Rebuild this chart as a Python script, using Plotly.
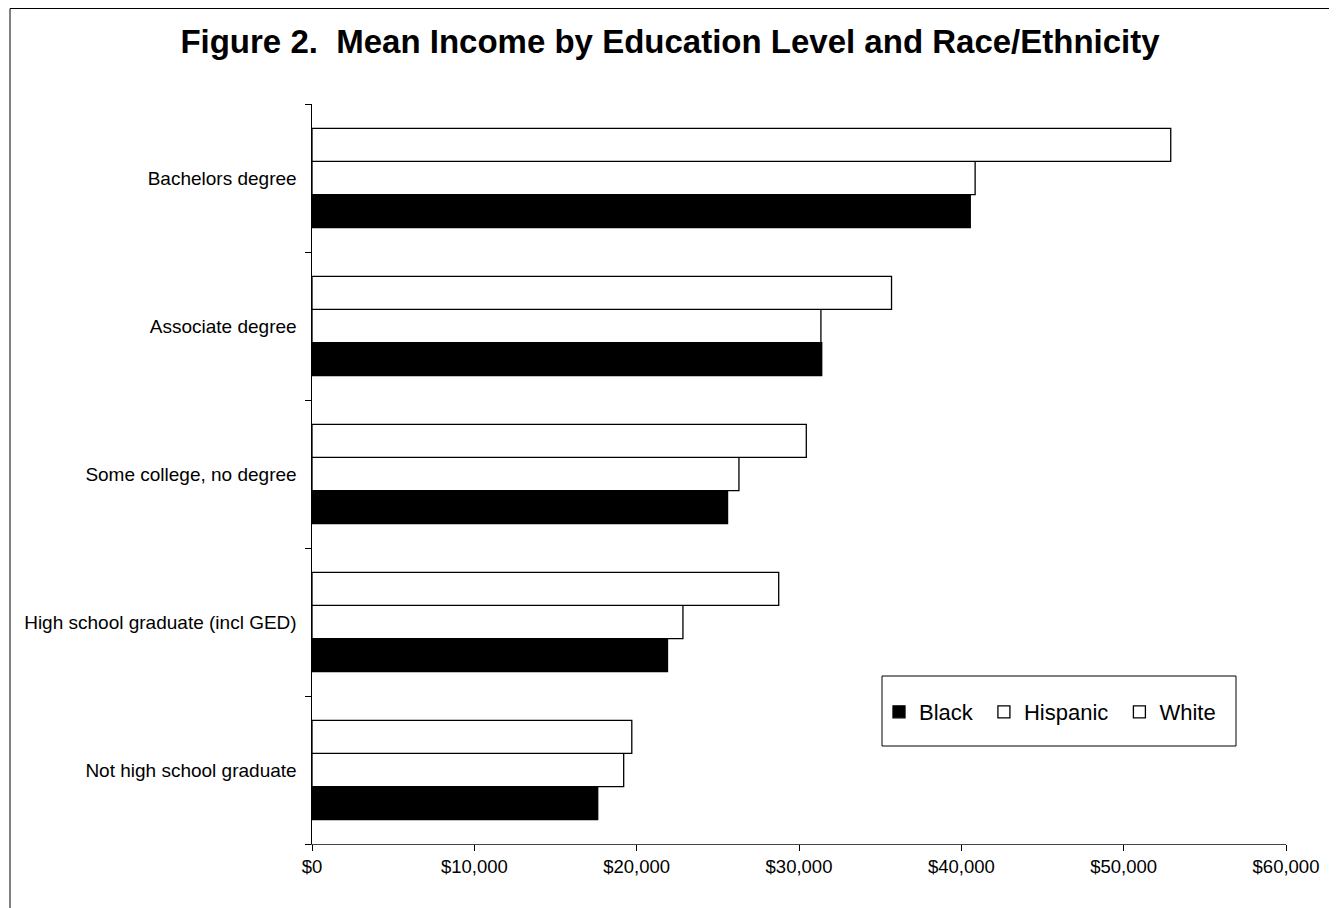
import plotly.graph_objects as go

categories = [
    "Not high school graduate",
    "High school graduate (incl GED)",
    "Some college, no degree",
    "Associate degree",
    "Bachelors degree",
]
series_names = ["Black", "Hispanic", "White"]
black = [17600, 21900, 25600, 31400, 40550]
hispanic = [19200, 22850, 26300, 31350, 40850]
white = [19700, 28750, 30450, 35700, 52900]
x_ticks = [0, 10000, 20000, 30000, 40000, 50000, 60000]
x_tick_labels = ["$0", "$10,000", "$20,000", "$30,000", "$40,000", "$50,000", "$60,000"]

FONT = "Liberation Sans, Arial, sans-serif"

fig = go.Figure()
fills = ["black", "white", "white"]
for i, (name, vals, fill) in enumerate(zip(series_names, [black, hispanic, white], fills)):
    label = name + ("\u00a0" if i < len(series_names) - 1 else "")
    fig.add_trace(go.Bar(
        y=categories, x=vals, name=label, orientation="h",
        marker=dict(color=fill, line=dict(color="black", width=1.3)),
    ))

# page body has an 8px margin; figure coordinates are screen coordinates minus 8
OFF = 8
W, H = 1337 - OFF, 908 - OFF
L, T = 312 - OFF, 104 - OFF
R = W - (1286 - OFF)
B = H - (844 - OFF)
pw, ph = W - L - R, H - T - B

def px_x(p):
    return (p - OFF - L) / pw

def px_y(p):
    return (H - B - (p - OFF)) / ph

fig.update_layout(
    width=W, height=H,
    margin=dict(l=L, r=R, t=T, b=B),
    paper_bgcolor="white", plot_bgcolor="white",
    barmode="group", bargap=0.33, bargroupgap=0,
    font=dict(family=FONT, color="black"),
    title=dict(
        text="<b>Figure 2.  Mean Income by Education Level and Race/Ethnicity</b>",
        x=(670 - OFF) / W, xanchor="center", xref="container",
        y=1 - (41 - OFF) / H, yanchor="middle", yref="container",
        font=dict(size=33, family=FONT, color="black"),
    ),
    xaxis=dict(
        range=[0, 60000], tickvals=x_ticks, ticktext=x_tick_labels,
        showgrid=False, zeroline=False, showline=True, linecolor="#444", linewidth=1.3,
        ticks="outside", ticklen=6, tickcolor="black",
        tickfont=dict(size=18.5, family=FONT),
    ),
    yaxis=dict(
        showgrid=False, zeroline=False, showline=True, linecolor="black", linewidth=1,
        ticks="outside", ticklen=6, tickcolor="black", tickson="boundaries",
        tickfont=dict(size=19, family=FONT), ticksuffix="  ",
    ),
    legend=dict(
        orientation="h", x=px_x(879), y=px_y(691), xanchor="left", yanchor="top",
        borderwidth=0, bgcolor="rgba(0,0,0,0)",
        font=dict(size=22, family=FONT), traceorder="normal",
        itemwidth=30,
    ),
    showlegend=True,
    shapes=[
        dict(type="rect", xref="paper", yref="paper",
             x0=px_x(10), x1=px_x(1330), y0=px_y(920), y1=px_y(8.5),
             line=dict(color="black", width=1), fillcolor="rgba(0,0,0,0)", layer="below"),
        dict(type="rect", xref="paper", yref="paper",
             x0=px_x(882), x1=px_x(1236), y0=px_y(746), y1=px_y(676),
             line=dict(color="black", width=1), fillcolor="white", layer="above"),
    ],
)

fig.write_html("out.html")
